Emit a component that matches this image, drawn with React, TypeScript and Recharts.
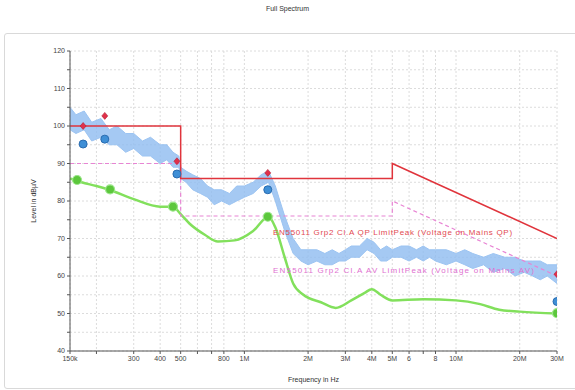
import {
  ComposedChart,
  Line,
  Area,
  Scatter,
  XAxis,
  YAxis,
  CartesianGrid,
} from "recharts";

// frequency (Hz) axis ticks
const xTicks = [150000, 200000, 300000, 400000, 500000, 600000, 700000, 800000, 1000000, 2000000, 3000000, 4000000, 5000000, 6000000, 7000000, 8000000, 10000000, 20000000, 30000000];
const xTickLabels = ["150k", "", "300", "400", "500", "", "", "800", "1M", "2M", "3M", "4M", "5M", "6", "", "8", "10M", "20M", "30M"];
const yTicks = [40, 45, 50, 55, 60, 65, 70, 75, 80, 85, 90, 95, 100, 105, 110, 115, 120];

// limit lines
const qpLimitFreq = [150000, 500000, 500000, 5000000, 5000000, 30000000];
const qpLimitLevel = [100, 100, 86, 86, 90, 70];
const avLimitFreq = [150000, 500000, 500000, 5000000, 5000000, 30000000];
const avLimitLevel = [90, 90, 76, 76, 80, 60];

// peak spectrum (blue band, low/high)
const peakFreq = [150000, 160000, 175000, 190000, 210000, 230000, 250000, 275000, 300000, 330000, 360000, 400000, 430000, 460000, 490000, 500000, 530000, 570000, 620000, 670000, 720000, 780000, 850000, 920000, 1000000, 1100000, 1200000, 1300000, 1400000, 1550000, 1700000, 1850000, 2000000, 2200000, 2400000, 2600000, 2800000, 3000000, 3200000, 3500000, 3800000, 4100000, 4400000, 4700000, 5000000, 5500000, 6000000, 6500000, 7000000, 7500000, 8000000, 9000000, 10000000, 11000000, 12000000, 13500000, 15000000, 17000000, 19000000, 21000000, 23000000, 25000000, 27000000, 30000000];
const peakLow = [99, 98, 99, 96, 97, 95, 95, 93, 94, 92, 92, 90, 91, 89, 89, 86, 85, 83, 82, 81, 79, 80, 79, 80, 81, 82, 84, 85, 80, 72, 66, 64, 63, 64, 63, 63, 64, 64, 65, 65, 67, 66, 64, 64, 65, 65, 64, 65, 64, 65, 64, 63, 64, 63, 62, 63, 61, 62, 60, 61, 60, 59, 60, 58];
const peakHigh = [105, 103, 104, 101, 102, 99, 100, 98, 98, 96, 97, 95, 95, 93, 92, 89, 88, 87, 86, 84, 83, 83, 82, 84, 84, 85, 87, 88, 84, 76, 70, 67, 67, 67, 66, 67, 66, 67, 68, 68, 70, 69, 67, 68, 67, 68, 68, 67, 68, 67, 67, 67, 66, 67, 66, 65, 66, 65, 65, 64, 64, 64, 63, 63];

// average spectrum (green)
const avgFreq = [150000, 170000, 200000, 230000, 300000, 400000, 460000, 500000, 550000, 650000, 750000, 900000, 1100000, 1300000, 1400000, 1550000, 1700000, 1900000, 2300000, 2700000, 3200000, 3700000, 4000000, 4400000, 5000000, 7000000, 10000000, 13000000, 16000000, 20000000, 30000000];
const avgLevel = [86, 85, 84, 83, 80.5, 78.5, 78.5, 76.5, 74, 71, 69.2, 69.5, 72, 75.8, 73, 65, 58, 55, 53, 51.5, 53.5, 55.5, 56.5, 55, 53.5, 53.8, 53.5, 52.5, 51, 50.5, 50];

// final measurement markers
const qpMarkFreq = [173000, 219000, 480000, 1290000, 30000000];
const qpMarkLevel = [100, 102.7, 90.6, 87.5, 60.5];
const pkMarkFreq = [173000, 219000, 480000, 1290000, 30000000];
const pkMarkLevel = [95.2, 96.5, 87.2, 83, 53.2];
const avMarkFreq = [162000, 232000, 460000, 1290000, 30000000];
const avMarkLevel = [85.6, 83.1, 78.5, 75.8, 50.1];

const pts = (f: number[], v: number[]) => f.map((x, i) => ({ f: x, v: v[i] }));

const qpLimit = pts(qpLimitFreq, qpLimitLevel);
const avLimit = pts(avLimitFreq, avLimitLevel);
const peakBand = peakFreq.map((f, i) => ({ f, r: [peakLow[i], peakHigh[i]] }));
const avgLine = pts(avgFreq, avgLevel);
const qpMarks = pts(qpMarkFreq, qpMarkLevel);
const pkMarks = pts(pkMarkFreq, pkMarkLevel);
const avMarks = pts(avMarkFreq, avMarkLevel);

const font = "Liberation Sans, Arial, sans-serif";

const Diamond = ({ cx, cy }: any) => (
  <path d={`M${cx},${cy - 3.5} L${cx + 3},${cy} L${cx},${cy + 3.5} L${cx - 3},${cy} Z`} fill="#e0304a" stroke="#b02035" strokeWidth={0.6} />
);
const BlueDot = ({ cx, cy }: any) => (
  <circle cx={cx} cy={cy} r={4} fill="#3f8fd6" stroke="#2a6cb0" strokeWidth={1} />
);
const GreenDot = ({ cx, cy }: any) => (
  <circle cx={cx} cy={cy} r={4.5} fill="#5cc73c" stroke="#9be68a" strokeWidth={1.2} />
);

export default function App() {
  return (
    <div style={{ position: "absolute", left: 0, top: 0, width: 575, height: 390, background: "#fff", fontFamily: font, overflow: "hidden" }}>
      <div style={{ position: "absolute", left: 0, top: 5, width: 575, textAlign: "center", fontSize: 7, color: "#333" }}>
        Full Spectrum
      </div>
      <div style={{ position: "absolute", left: 4, top: 33, width: 580, height: 354, border: "1.5px solid #d9d9d9", borderRadius: 3 }} />

      <div style={{ position: "absolute", left: 0, top: 0 }}>
        <ComposedChart width={575} height={390} margin={{ top: 51, right: 18, bottom: 9, left: 30 }}>
          <CartesianGrid stroke="#dcdcdc" strokeDasharray="2 2" />
          <XAxis
            dataKey="f"
            type="number"
            scale="log"
            domain={[150000, 30000000]}
            allowDataOverflow
            ticks={xTicks}
            interval={0}
            height={30}
            tickFormatter={(v: number) => xTickLabels[xTicks.indexOf(v)] ?? ""}
            tick={{ fontSize: 7, fill: "#444", fontFamily: font }}
            tickSize={3}
            axisLine={{ stroke: "#555" }}
            tickLine={{ stroke: "#555" }}
          />
          <YAxis
            type="number"
            domain={[40, 120]}
            ticks={yTicks}
            interval={0}
            width={40}
            allowDataOverflow
            tickFormatter={(v: number) => (v % 10 === 0 ? String(v) : "")}
            tick={{ fontSize: 7, fill: "#444", fontFamily: font }}
            tickSize={3}
            axisLine={{ stroke: "#555" }}
            tickLine={{ stroke: "#555" }}
          />

          <Area
            data={peakBand}
            dataKey="r"
            type="linear"
            stroke="#9cc4f2"
            strokeWidth={1}
            fill="#8fbcf0"
            fillOpacity={0.8}
            isAnimationActive={false}
          />
          <Line
            data={avgLine}
            dataKey="v"
            type="monotone"
            stroke="#82e05c"
            strokeWidth={2.5}
            dot={false}
            isAnimationActive={false}
          />
          <Line
            data={avLimit}
            dataKey="v"
            type="linear"
            stroke="#e884d4"
            strokeWidth={1.2}
            strokeDasharray="4 3"
            dot={false}
            isAnimationActive={false}
          />
          <Line
            data={qpLimit}
            dataKey="v"
            type="linear"
            stroke="#e0343c"
            strokeWidth={1.5}
            dot={false}
            isAnimationActive={false}
          />
          <Scatter data={avMarks} dataKey="v" shape={<GreenDot />} isAnimationActive={false} />
          <Scatter data={pkMarks} dataKey="v" shape={<BlueDot />} isAnimationActive={false} />
          <Scatter data={qpMarks} dataKey="v" shape={<Diamond />} isAnimationActive={false} />
        </ComposedChart>
      </div>

      <div style={{ position: "absolute", left: 273, top: 228, fontSize: 8, letterSpacing: 0.7, color: "#e24a50", whiteSpace: "nowrap" }}>
        EN55011 Grp2 Cl.A QP LimitPeak (Voltage on Mains QP)
      </div>
      <div style={{ position: "absolute", left: 273, top: 266, fontSize: 8, letterSpacing: 1.2, color: "#e070d0", whiteSpace: "nowrap" }}>
        EN55011 Grp2 Cl.A AV LimitPeak (Voltage on Mains AV)
      </div>

      <div style={{ position: "absolute", left: 33, top: 201, transform: "translate(-50%, -50%) rotate(-90deg)", fontSize: 7, color: "#333", whiteSpace: "nowrap" }}>
        Level in dBµV
      </div>
      <div style={{ position: "absolute", left: 0, top: 376, width: 627, textAlign: "center", fontSize: 7, color: "#333" }}>
        Frequency in Hz
      </div>
    </div>
  );
}
